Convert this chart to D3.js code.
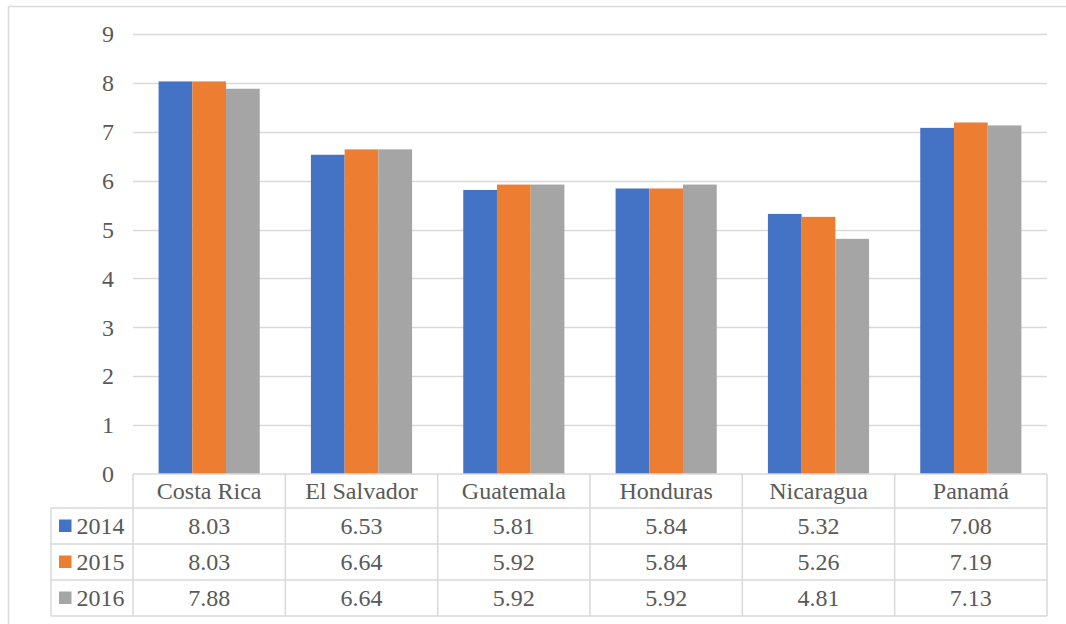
<!DOCTYPE html>
<html>
<head>
<meta charset="utf-8">
<script src="https://cdn.jsdelivr.net/npm/d3@7"></script>
<style>
  html, body { margin: 0; padding: 0; background: #ffffff; }
  svg { display: block; }
  text { font-family: "Liberation Serif", "Times New Roman", serif; fill: #595959; }
</style>
</head>
<body>
<svg id="chart" width="1066" height="624"></svg>
<script>
// Country categories and yearly series
const categories = ["Costa Rica", "El Salvador", "Guatemala", "Honduras", "Nicaragua", "Panamá"];
const seriesNames = ["2014", "2015", "2016"];
const values2014 = [8.03, 6.53, 5.81, 5.84, 5.32, 7.08];
const values2015 = [8.03, 6.64, 5.92, 5.84, 5.26, 7.19];
const values2016 = [7.88, 6.64, 5.92, 5.92, 4.81, 7.13];
const yTicks = [0, 1, 2, 3, 4, 5, 6, 7, 8, 9];

const seriesValues = [values2014, values2015, values2016];
const colors = ["#4472c4", "#ed7d31", "#a5a5a5"];
const gridColor = "#d9d9d9";

const svg = d3.select("#chart");

// Chart frame (only its top and left edges fall inside the view)
svg.append("line").attr("x1", 8.5).attr("x2", 8.5).attr("y1", 6.5).attr("y2", 624)
  .attr("stroke", gridColor).attr("stroke-width", 1.5);
svg.append("line").attr("x1", 8.5).attr("x2", 1066).attr("y1", 6.5).attr("y2", 6.5)
  .attr("stroke", gridColor).attr("stroke-width", 1.5);

const plotLeft = 133, plotRight = 1047, plotTop = 34, plotBottom = 474;

const x0 = d3.scaleBand().domain(categories).range([plotLeft, plotRight]).padding(0);
const groupW = x0.bandwidth() * 0.664;
const x1 = d3.scaleBand().domain(seriesNames).range([0, groupW]).padding(0);
const y = d3.scaleLinear().domain([0, 9]).range([plotBottom, plotTop]);

// Horizontal gridlines
svg.append("g").selectAll("line").data(yTicks.filter(t => t > 0)).join("line")
  .attr("x1", plotLeft).attr("x2", plotRight)
  .attr("y1", d => Math.round(y(d)) + 0.5).attr("y2", d => Math.round(y(d)) + 0.5)
  .attr("stroke", gridColor).attr("stroke-width", 1.5);

// Value axis labels
const yAxis = d3.axisLeft(y).tickValues(yTicks).tickSize(0).tickPadding(19);
const yAxisG = svg.append("g").attr("transform", `translate(${plotLeft},0)`).call(yAxis);
yAxisG.select(".domain").remove();
yAxisG.selectAll("text").attr("font-size", 24).attr("fill", "#595959")
  .attr("font-family", "Liberation Serif, Times New Roman, serif");

// Clustered bars
const groups = svg.append("g").selectAll("g").data(categories).join("g")
  .attr("transform", d => `translate(${x0(d) + (x0.bandwidth() - groupW) / 2},0)`);
groups.selectAll("rect").data((c, i) => seriesNames.map((s, j) => ({ s, j, v: seriesValues[j][i] })))
  .join("rect")
  .attr("x", d => x1(d.s))
  .attr("width", x1.bandwidth())
  .attr("y", d => y(d.v))
  .attr("height", d => y(0) - y(d.v))
  .attr("fill", d => colors[d.j]);

// Data table below the plot
const rowEdges = [474, 508, 544, 580, 616];
const legendLeft = 51;
const table = svg.append("g");
const stroke = { stroke: gridColor, "stroke-width": 1.5 };

function hline(x1p, x2p, yp) {
  table.append("line").attr("x1", x1p).attr("x2", x2p).attr("y1", yp).attr("y2", yp)
    .attr("stroke", stroke.stroke).attr("stroke-width", stroke["stroke-width"]);
}
function vline(xp, y1p, y2p) {
  table.append("line").attr("x1", xp).attr("x2", xp).attr("y1", y1p).attr("y2", y2p)
    .attr("stroke", stroke.stroke).attr("stroke-width", stroke["stroke-width"]);
}

hline(plotLeft, plotRight, rowEdges[0]);
for (let r = 1; r < rowEdges.length; r++) hline(legendLeft, plotRight, rowEdges[r]);
vline(legendLeft, rowEdges[1], rowEdges[4]);
categories.forEach(c => vline(x0(c), rowEdges[0], rowEdges[4]));
vline(plotRight, rowEdges[0], rowEdges[4]);

// Category header row
table.selectAll("text.cat").data(categories).join("text")
  .attr("class", "cat")
  .attr("x", d => x0(d) + x0.bandwidth() / 2)
  .attr("y", (rowEdges[0] + rowEdges[1]) / 2)
  .attr("dy", "0.35em")
  .attr("text-anchor", "middle")
  .attr("font-size", 24)
  .text(d => d);

// Series rows: legend key, year and values
seriesNames.forEach((s, j) => {
  const yMid = (rowEdges[j + 1] + rowEdges[j + 2]) / 2;
  table.append("rect").attr("x", 59).attr("y", yMid - 6.5).attr("width", 12.5).attr("height", 12.5)
    .attr("fill", colors[j]);
  table.append("text").attr("x", 76.5).attr("y", yMid).attr("dy", "0.35em")
    .attr("font-size", 24).text(s);
  table.selectAll(null).data(seriesValues[j]).join("text")
    .attr("x", (d, i) => x0(categories[i]) + x0.bandwidth() / 2)
    .attr("y", yMid).attr("dy", "0.35em")
    .attr("text-anchor", "middle")
    .attr("font-size", 24)
    .text(d => d.toFixed(2));
});
</script>
</body>
</html>
